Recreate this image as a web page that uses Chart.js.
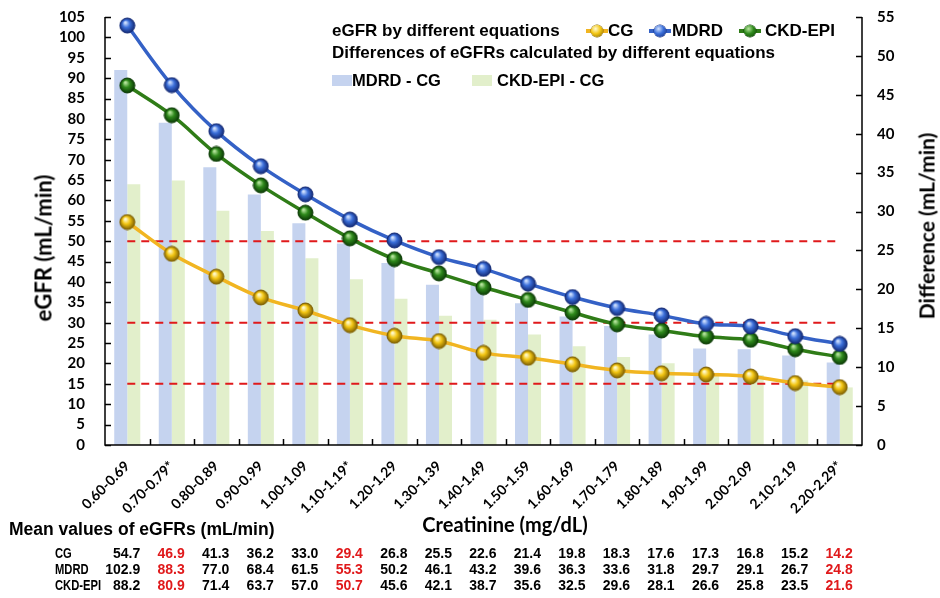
<!DOCTYPE html>
<html>
<head>
<meta charset="utf-8">
<script src="https://cdn.jsdelivr.net/npm/chart.js@4.4.1/dist/chart.umd.min.js"></script>
<style>
  html, body { margin: 0; padding: 0; background: #fff; }
  #wrap { position: relative; width: 940px; height: 598px; overflow: hidden; }
  #c { position: absolute; left: 0; top: 0; }
  .t { position: absolute; white-space: nowrap; color: #000; font-weight: bold; }
  .leg { font-family: "Liberation Sans", Arial, sans-serif; font-size: 17px; line-height: 20px; }
  .tab { font-family: "Liberation Sans", Arial, sans-serif; font-size: 14px; line-height: 16px; }
  .red { color: #e0191b; }
  .mk { position: absolute; height: 4px; width: 22px; }
  .ball { position: absolute; width: 12px; height: 12px; border-radius: 50%; }
  .box { position: absolute; width: 20px; height: 11px; }
</style>
</head>
<body>
<div id="wrap">
  <canvas id="c" width="940" height="598"></canvas>
</div>
<script>
// Creatinine groups (mg/dL); "*" marks groups highlighted in the table
const categories = ['0.60-0.69', '0.70-0.79*', '0.80-0.89', '0.90-0.99', '1.00-1.09', '1.10-1.19*',
  '1.20-1.29', '1.30-1.39', '1.40-1.49', '1.50-1.59', '1.60-1.69', '1.70-1.79', '1.80-1.89',
  '1.90-1.99', '2.00-2.09', '2.10-2.19', '2.20-2.29*'];

// Mean eGFR (mL/min) by equation
const cg     = [54.7, 46.9, 41.3, 36.2, 33.0, 29.4, 26.8, 25.5, 22.6, 21.4, 19.8, 18.3, 17.6, 17.3, 16.8, 15.2, 14.2];
const mdrd   = [102.9, 88.3, 77.0, 68.4, 61.5, 55.3, 50.2, 46.1, 43.2, 39.6, 36.3, 33.6, 31.8, 29.7, 29.1, 26.7, 24.8];
const ckdEpi = [88.2, 80.9, 71.4, 63.7, 57.0, 50.7, 45.6, 42.1, 38.7, 35.6, 32.5, 29.6, 28.1, 26.6, 25.8, 23.5, 21.6];

// Differences between equations (mL/min), right axis
const mdrdMinusCg   = [48.2, 41.4, 35.7, 32.2, 28.5, 25.9, 23.4, 20.6, 20.6, 18.2, 16.5, 15.3, 14.2, 12.4, 12.3, 11.5, 10.6];
const ckdEpiMinusCg = [33.5, 34.0, 30.1, 27.5, 24.0, 21.3, 18.8, 16.6, 16.1, 14.2, 12.7, 11.3, 10.5, 9.3, 9.0, 8.3, 7.4];

// eGFR reference levels (mL/min)
const thresholds = [50, 30, 15];

// Table columns shown in red
const highlightCols = [1, 5, 16];

const COL = {
  cg:   { line: '#f1b521', base: '#f3c613', light: '#fffbd2', dark: '#7f6000' },
  mdrd: { line: '#3461c6', base: '#3b6fda', light: '#d3e3ff', dark: '#132a76' },
  ckd:  { line: '#2f7c17', base: '#2f8a1c', light: '#b9e6a0', dark: '#0b3b05' },
  barA: '#c5d3ef',
  barB: '#e2efcb',
  ref:  '#e0191b'
};

function sphere(c, r) {
  const s = Math.ceil(r * 2 + 2);
  const cv = document.createElement('canvas');
  cv.width = s; cv.height = s;
  const g2 = cv.getContext('2d');
  const grd = g2.createRadialGradient(s * 0.38, s * 0.32, r * 0.08, s / 2, s / 2, r);
  grd.addColorStop(0, c.light);
  grd.addColorStop(0.45, c.base);
  grd.addColorStop(1, c.dark);
  g2.beginPath();
  g2.arc(s / 2, s / 2, r, 0, Math.PI * 2);
  g2.fillStyle = grd;
  g2.fill();
  g2.lineWidth = 1;
  g2.strokeStyle = c.dark;
  g2.stroke();
  return cv;
}

const tickFont = { family: 'Lato, "Open Sans", sans-serif', size: 15, weight: 'bold' };

function lineSet(label, data, c) {
  return {
    type: 'line', label, data, yAxisID: 'y',
    borderColor: c.line, borderWidth: 3.5, tension: 0.35,
    pointStyle: sphere(c, 7.5), pointRadius: 7.5, pointHoverRadius: 7.5,
    fill: false, order: 0
  };
}

const refSets = thresholds.map(v => ({
  type: 'line', label: 'ref ' + v, data: categories.map(() => v), yAxisID: 'y',
  borderColor: COL.ref, borderWidth: 2, borderDash: [8, 6], pointRadius: 0,
  fill: false, tension: 0, order: 1
}));

// Axis lines and inward tick marks
const axisPlugin = {
  id: 'axisLines',
  afterDatasetsDraw(chart) {
    const { ctx, chartArea: a, scales } = chart;
    ctx.save();
    ctx.strokeStyle = '#000';
    ctx.lineWidth = 1.5;
    ctx.beginPath();
    ctx.moveTo(a.left, a.top); ctx.lineTo(a.left, a.bottom); ctx.lineTo(a.right, a.bottom); ctx.lineTo(a.right, a.top);
    scales.y.ticks.forEach(t => {
      const y = Math.round(scales.y.getPixelForValue(t.value)) + 0.5;
      ctx.moveTo(a.left, y); ctx.lineTo(a.left + 6, y);
    });
    scales.y1.ticks.forEach(t => {
      const y = Math.round(scales.y1.getPixelForValue(t.value)) + 0.5;
      ctx.moveTo(a.right, y); ctx.lineTo(a.right - 6, y);
    });
    const w = (a.right - a.left) / categories.length;
    for (let i = 1; i < categories.length; i++) {
      const x = Math.round(a.left + i * w) + 0.5;
      ctx.moveTo(x, a.bottom); ctx.lineTo(x, a.bottom - 6);
    }
    ctx.stroke();
    ctx.restore();
  }
};

const chart = new Chart(document.getElementById('c'), {
  data: {
    labels: categories,
    datasets: [
      lineSet('CG', cg, COL.cg),
      lineSet('MDRD', mdrd, COL.mdrd),
      lineSet('CKD-EPI', ckdEpi, COL.ckd),
      ...refSets,
      { type: 'bar', label: 'MDRD - CG', data: mdrdMinusCg, yAxisID: 'y1',
        backgroundColor: COL.barA, categoryPercentage: 0.585, barPercentage: 1, order: 3 },
      { type: 'bar', label: 'CKD-EPI - CG', data: ckdEpiMinusCg, yAxisID: 'y1',
        backgroundColor: COL.barB, categoryPercentage: 0.585, barPercentage: 1, order: 3 }
    ]
  },
  options: {
    responsive: false,
    devicePixelRatio: 1,
    animation: false,
    layout: { padding: { top: 17, left: 0, right: 0, bottom: 0 } },
    plugins: { legend: { display: false }, tooltip: { enabled: false } },
    scales: {
      x: {
        offset: true,
        grid: { display: false },
        border: { display: false },
        ticks: { color: '#000', font: { family: 'Lato, sans-serif', size: 14, weight: 'bold' },
                 minRotation: 45, maxRotation: 45, padding: 5, autoSkip: false },
        afterFit(s) { s.height = 153; }
      },
      y: {
        position: 'left', min: 0, max: 105,
        grid: { display: false, drawTicks: true, tickLength: 18 },
        border: { display: false },
        ticks: { stepSize: 5, color: '#000', font: tickFont, padding: 2, autoSkip: false },
        afterFit(s) { s.width = 105; }
      },
      y1: {
        position: 'right', min: 0, max: 55,
        grid: { display: false, drawTicks: true, tickLength: 13 },
        border: { display: false },
        ticks: { stepSize: 5, color: '#000', font: tickFont, padding: 2, autoSkip: false },
        afterFit(s) { s.width = 78; }
      }
    }
  },
  plugins: [axisPlugin]
});

// ---- Text placed over the canvas: titles, legend and value table ----
const wrap = document.getElementById('wrap');
function addText(txt, cls, css) {
  const d = document.createElement('div');
  d.className = 't ' + cls;
  d.textContent = txt;
  Object.assign(d.style, css);
  wrap.appendChild(d);
  return d;
}

// axis titles
addText('eGFR (mL/min)', '', { fontFamily: 'Lato, sans-serif', fontSize: '22px', left: '43px', top: '248px',
  transform: 'translate(-50%, -50%) rotate(-90deg)' });
addText('Difference (mL/min)', '', { fontFamily: 'Lato, sans-serif', fontSize: '21px', left: '926px', top: '226px',
  transform: 'translate(-50%, -50%) rotate(-90deg)' });
addText('Creatinine (mg/dL)', '', { fontFamily: 'Lato, sans-serif', fontSize: '20px', left: '505px', top: '524px',
  transform: 'translate(-50%, -50%)' });

// legend
addText('eGFR by different equations', 'leg', { left: '332px', top: '21px' });
addText('Differences of eGFRs calculated by different equations', 'leg', { left: '332px', top: '43px' });
function legMarker(cx, cy, c) {
  const l = document.createElement('div');
  l.className = 'mk';
  Object.assign(l.style, { left: (cx - 11) + 'px', top: (cy - 2) + 'px', background: c.line });
  wrap.appendChild(l);
  const b = document.createElement('div');
  b.className = 'ball';
  Object.assign(b.style, { left: (cx - 6) + 'px', top: (cy - 6) + 'px',
    background: `radial-gradient(circle at 38% 32%, ${c.light} 0%, ${c.base} 45%, ${c.dark} 100%)`,
    boxShadow: `0 0 0 0.5px ${c.dark}` });
  wrap.appendChild(b);
}
legMarker(597, 31, COL.cg);   addText('CG', 'leg', { left: '608px', top: '21px' });
legMarker(660, 31, COL.mdrd); addText('MDRD', 'leg', { left: '672px', top: '21px' });
legMarker(750, 31, COL.ckd);  addText('CKD-EPI', 'leg', { left: '765px', top: '21px' });
[[332, COL.barA, 'MDRD - CG', 352], [472, COL.barB, 'CKD-EPI - CG', 497]].forEach(([bx, col, txt, tx]) => {
  const b = document.createElement('div');
  b.className = 'box';
  Object.assign(b.style, { left: bx + 'px', top: '75px', background: col });
  wrap.appendChild(b);
  addText(txt, 'leg', { left: tx + 'px', top: '70px', fontSize: '16.5px' });
});

// value table aligned with category columns
addText('Mean values of eGFRs (mL/min)', '', { fontFamily: '"Liberation Sans", Arial, sans-serif', fontSize: '17.5px',
  left: '9px', top: '519px' });
const rows = [['CG', cg], ['MDRD', mdrd], ['CKD-EPI', ckdEpi]];
const rowY = [545, 561, 577];
rows.forEach(([name, vals], r) => {
  addText(name, 'tab', { left: '55px', top: rowY[r] + 'px', transform: 'scaleX(0.8)', transformOrigin: 'left center' });
  vals.forEach((v, i) => {
    const xr = chart.scales.x.getPixelForValue(i) + 13;
    addText(v.toFixed(1), 'tab' + (highlightCols.includes(i) ? ' red' : ''),
      { left: xr + 'px', top: rowY[r] + 'px', transform: 'translateX(-100%)' });
  });
});
</script>
</body>
</html>
